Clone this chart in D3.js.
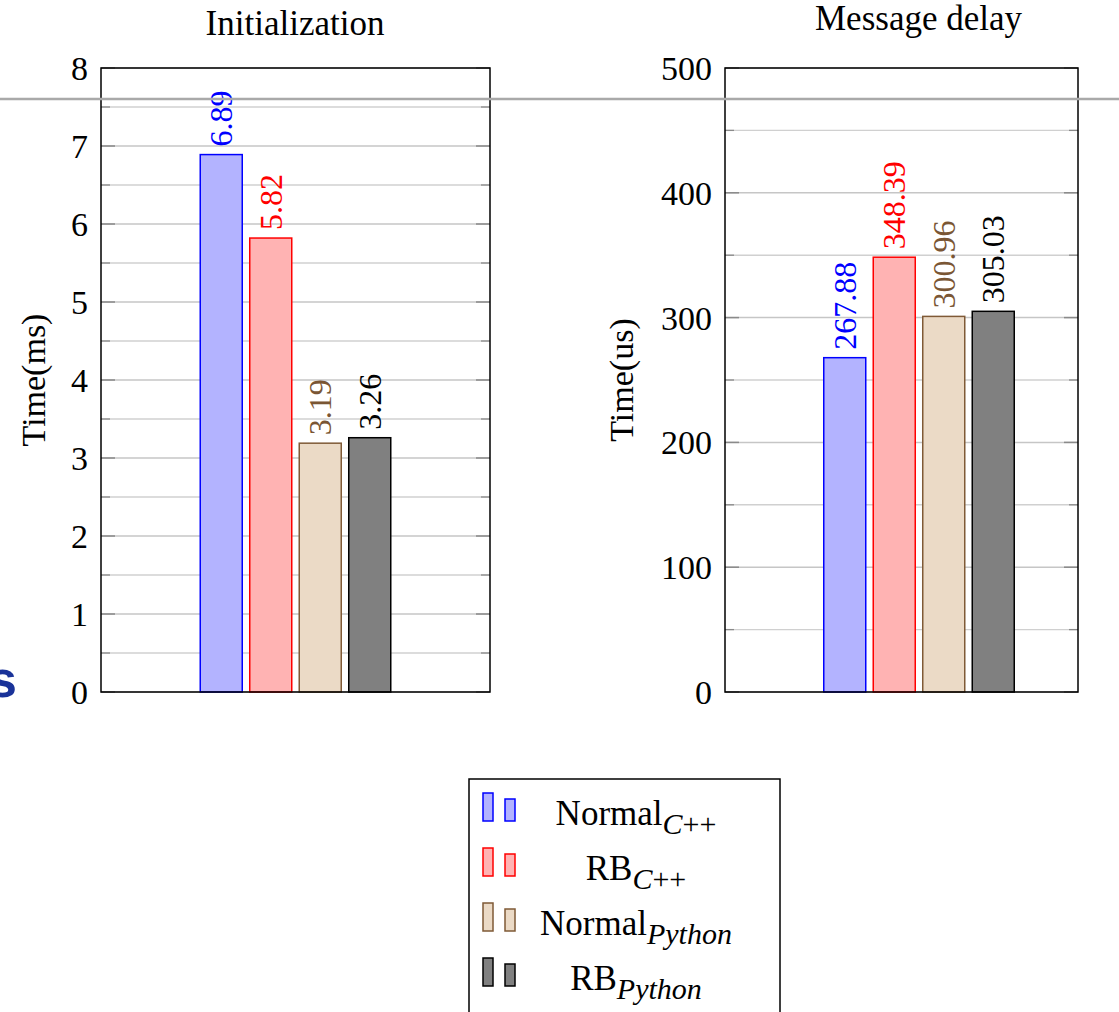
<!DOCTYPE html>
<html>
<head>
<meta charset="utf-8">
<script src="https://cdn.jsdelivr.net/npm/d3@7"></script>
<style>
  html, body { margin: 0; padding: 0; background: #fff; }
  svg { display: block; }
</style>
</head>
<body>
<svg id="chart" width="1119" height="1012"></svg>
<script>
// ---- data ----
const series = ["Normal_C++", "RB_C++", "Normal_Python", "RB_Python"];
const legendMain = ["Normal", "RB", "Normal", "RB"];
const legendSub = ["C++", "C++", "Python", "Python"];
const initValues = [6.89, 5.82, 3.19, 3.26];
const delayValues = [267.88, 348.39, 300.96, 305.03];
const initTicks = [0, 1, 2, 3, 4, 5, 6, 7, 8];
const delayTicks = [0, 100, 200, 300, 400, 500];
const titles = ["Initialization", "Message delay"];
const yLabels = ["Time(ms)", "Time(us)"];

// ---- styles ----
const SERIF = "'Liberation Serif', 'DejaVu Serif', serif";
const fills = ["#b3b3ff", "#ffb3b3", "#ebdac6", "#808080"];
const strokes = ["#0000ff", "#ff0000", "#7f5a36", "#000000"];
const labelColors = ["#0000ff", "#ff0000", "#7a5634", "#000000"];

const svg = d3.select("#chart");

const panels = [
  { x0: 101, x1: 490, groupCenter: 295.5, values: initValues, ticks: initTicks, max: 8, minorStep: 0.5,
    title: titles[0], titleX: 295, titleY: 35, yLabel: yLabels[0], yLabelX: 45 },
  { x0: 725, x1: 1078, groupCenter: 919, values: delayValues, ticks: delayTicks, max: 500, minorStep: 50,
    title: titles[1], titleX: 918.5, titleY: 30, yLabel: yLabels[1], yLabelX: 633 }
];
const yTop = 68, yBot = 692;

panels.forEach(p => {
  const g = svg.append("g");
  const y = d3.scaleLinear().domain([0, p.max]).range([yBot, yTop]);
  const half = 2 * 49.5 - 3.75;
  const x = d3.scaleBand().domain(series)
    .range([p.groupCenter - half, p.groupCenter + half])
    .paddingInner(0.1515).paddingOuter(0);

  // minor grid
  const minor = d3.range(0, p.max + 1e-9, p.minorStep).filter(v => !p.ticks.includes(v));
  g.append("g").selectAll("line").data(minor).join("line")
    .attr("x1", p.x0).attr("x2", p.x1)
    .attr("y1", d => y(d)).attr("y2", d => y(d))
    .attr("stroke", "#d0d0d0").attr("stroke-width", 1.4);
  // major grid
  g.append("g").selectAll("line").data(p.ticks).join("line")
    .attr("x1", p.x0).attr("x2", p.x1)
    .attr("y1", d => y(d)).attr("y2", d => y(d))
    .attr("stroke", "#c6c6c6").attr("stroke-width", 1.5);
  // tick marks (inside, both sides)
  [[p.x0, 1], [p.x1, -1]].forEach(([xx, dir]) => {
    g.append("g").selectAll("line").data(p.ticks).join("line")
      .attr("x1", xx).attr("x2", xx + dir * 14)
      .attr("y1", d => y(d)).attr("y2", d => y(d))
      .attr("stroke", "#8a8a8a").attr("stroke-width", 1.5);
    g.append("g").selectAll("line").data(minor).join("line")
      .attr("x1", xx).attr("x2", xx + dir * 9)
      .attr("y1", d => y(d)).attr("y2", d => y(d))
      .attr("stroke", "#8a8a8a").attr("stroke-width", 1.3);
  });

  // y axis labels via d3 axis
  const axis = d3.axisLeft(y).tickValues(p.ticks).tickSize(0).tickPadding(13).tickFormat(d3.format("d"));
  const ag = g.append("g").attr("transform", `translate(${p.x0},0)`).call(axis);
  ag.attr("font-family", null).attr("font-size", null);
  ag.select(".domain").remove();
  ag.selectAll("text")
    .style("font-family", SERIF)
    .style("font-size", "34px").attr("fill", "#000").attr("dy", "0.34em");

  // bars
  g.append("g").selectAll("rect").data(p.values).join("rect")
    .attr("x", (d, i) => x(series[i]))
    .attr("y", d => y(d))
    .attr("width", x.bandwidth())
    .attr("height", d => yBot - y(d))
    .attr("fill", (d, i) => fills[i])
    .attr("stroke", (d, i) => strokes[i])
    .attr("stroke-width", 1.5);

  // value labels
  g.append("g").selectAll("text").data(p.values).join("text")
    .attr("transform", (d, i) => `translate(${x(series[i]) + x.bandwidth() / 2},${y(d) - 8}) rotate(-90)`)
    .attr("text-anchor", "start")
    .attr("dy", "0.34em")
    .style("font-family", SERIF)
    .style("font-size", "32px")
    .attr("fill", (d, i) => labelColors[i])
    .text(d => d.toFixed(2));

  // frame
  g.append("rect").attr("x", p.x0).attr("y", yTop)
    .attr("width", p.x1 - p.x0).attr("height", yBot - yTop)
    .attr("fill", "none").attr("stroke", "#000").attr("stroke-width", 1.5);

  // title
  g.append("text").attr("x", p.titleX).attr("y", p.titleY)
    .attr("text-anchor", "middle")
    .style("font-family", SERIF).style("font-size", "35px").text(p.title);

  // y label
  g.append("text")
    .attr("transform", `translate(${p.yLabelX},${(yTop + yBot) / 2}) rotate(-90)`)
    .attr("text-anchor", "middle")
    .style("font-family", SERIF).style("font-size", "34px").text(p.yLabel);
});

// legend
const lg = svg.append("g");
lg.append("rect").attr("x", 469).attr("y", 779).attr("width", 311).attr("height", 260)
  .attr("fill", "#fff").attr("stroke", "#000").attr("stroke-width", 1.5);
const rowY = d3.scalePoint().domain(series).range([825, 990]);
series.forEach((s, i) => {
  const by = rowY(s) - 4;
  lg.append("rect").attr("x", 483).attr("y", by - 28).attr("width", 10).attr("height", 28)
    .attr("fill", fills[i]).attr("stroke", strokes[i]).attr("stroke-width", 1.5);
  lg.append("rect").attr("x", 505).attr("y", by - 22).attr("width", 10).attr("height", 22)
    .attr("fill", fills[i]).attr("stroke", strokes[i]).attr("stroke-width", 1.5);
  const t = lg.append("text").attr("x", 636).attr("y", rowY(s))
    .attr("text-anchor", "middle")
    .style("font-family", SERIF).style("font-size", "35px");
  t.append("tspan").text(legendMain[i]);
  const sub = legendSub[i];
  if (sub === "C++") {
    t.append("tspan").attr("dy", 9).style("font-size", "30px").style("font-style", "italic").text("C");
    t.append("tspan").style("font-size", "30px").text("++");
  } else {
    t.append("tspan").attr("dy", 9).style("font-size", "30px").style("font-style", "italic").text(sub);
  }
});

// slide artifacts: horizontal rule and clipped heading letter
svg.append("line").attr("x1", 0).attr("x2", 1119).attr("y1", 99).attr("y2", 99)
  .attr("stroke", "#a9a9a9").attr("stroke-width", 2.5);
svg.append("text").attr("x", 17).attr("y", 697).attr("text-anchor", "end")
  .style("font-family", "'Liberation Sans', Arial, sans-serif").style("font-weight", "bold")
  .style("font-size", "52px").attr("fill", "#1a3399").text("s");
</script>
</body>
</html>
